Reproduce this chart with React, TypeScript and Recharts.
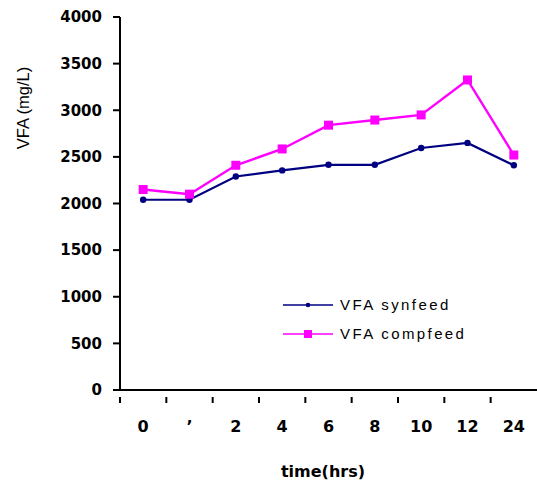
import { Label, Legend, Line, LineChart, XAxis, YAxis } from "recharts";

const hours = ["0", "’", "2", "4", "6", "8", "10", "12", "24"];
const synfeed = [2040, 2040, 2290, 2355, 2415, 2415, 2595, 2650, 2410];
const compfeed = [2150, 2100, 2410, 2585, 2840, 2895, 2950, 3325, 2520];
const yTicks = [0, 500, 1000, 1500, 2000, 2500, 3000, 3500, 4000];

const rows = hours.map((time, i) => ({
  time,
  synfeed: synfeed[i],
  compfeed: compfeed[i],
}));

const W = 537;
const H = 484;
const AXIS_W = 120;
const AXIS_H = 94;
const TOP = 17;
const BAND = (W - AXIS_W) / hours.length;

const NAVY = "#000080";
const MAGENTA = "#ff00ff";
const TICK_FONT = "'DejaVu Sans', sans-serif";
const TEXT_FONT = "'Liberation Sans', Arial, sans-serif";

// category ticks sit on the band edges, labels in the middle
function TimeTick({ x, y, payload }: any) {
  const edge = x - BAND / 2;
  return (
    <g>
      <line x1={edge} x2={edge} y1={y - 1} y2={y + 5} stroke="#000" strokeWidth={2} />
      <text
        x={x}
        y={y + 34}
        textAnchor="middle"
        fontFamily={TICK_FONT}
        fontWeight="bold"
        fontSize={16}
        fill="#000"
      >
        {payload.value}
      </text>
    </g>
  );
}

function SynDot({ cx, cy }: any) {
  return <circle cx={cx} cy={cy} r={3.2} fill={NAVY} />;
}

function CompDot({ cx, cy }: any) {
  return <rect x={cx - 4.5} y={cy - 4.5} width={9} height={9} fill={MAGENTA} />;
}

function KeyBox() {
  const items = [
    { name: "VFA synfeed", color: NAVY, square: false },
    { name: "VFA compfeed", color: MAGENTA, square: true },
  ];
  return (
    <svg width={220} height={60}>
      {items.map((it, i) => {
        const y = 9 + i * 29;
        return (
          <g key={it.name}>
            <line x1={0} x2={50} y1={y} y2={y} stroke={it.color} strokeWidth={1.3} />
            {it.square ? (
              <rect x={21} y={y - 4} width={8} height={8} fill={it.color} />
            ) : (
              <circle cx={25} cy={y} r={2.3} fill={it.color} />
            )}
            <text
              x={57}
              y={y + 5}
              fontFamily={TEXT_FONT}
              fontSize={15}
              letterSpacing={2.4}
              fill="#000"
            >
              {it.name}
            </text>
          </g>
        );
      })}
    </svg>
  );
}

export default function App() {
  return (
    <div style={{ position: "absolute", left: 0, top: 0, background: "#fff" }}>
      <LineChart
        width={W}
        height={H}
        data={rows}
        margin={{ top: TOP, right: 0, bottom: 0, left: 0 }}
      >
        <XAxis
          dataKey="time"
          height={AXIS_H}
          interval={0}
          padding={{ left: BAND / 2, right: BAND / 2 }}
          stroke="#000"
          strokeWidth={2}
          tickLine={false}
          tick={<TimeTick />}
        >
          <Label
            content={() => (
              <text
                x={323}
                y={477}
                textAnchor="middle"
                fontFamily={TICK_FONT}
                fontWeight="bold"
                fontSize={16}
                fill="#000"
              >
                time(hrs)
              </text>
            )}
          />
        </XAxis>
        <YAxis
          width={AXIS_W}
          domain={[0, 4000]}
          ticks={yTicks}
          interval={0}
          stroke="#000"
          strokeWidth={2}
          tickSize={7}
          tickMargin={11}
          tick={{
            fontFamily: TICK_FONT,
            fontWeight: "bold",
            fontSize: 15,
            fill: "#000",
          }}
        >
          <Label
            content={() => (
              <text
                x={29}
                y={108}
                transform="rotate(-90 29 108)"
                textAnchor="middle"
                fontFamily={TEXT_FONT}
                fontSize={16.5}
                fontWeight={500}
                fill="#000"
              >
                VFA (mg/L)
              </text>
            )}
          />
        </YAxis>
        <Legend
          layout="vertical"
          align="center"
          verticalAlign="middle"
          content={<KeyBox />}
          wrapperStyle={{ left: 283, top: 296, width: 220 }}
        />
        <Line
          dataKey="synfeed"
          name="VFA synfeed"
          stroke={NAVY}
          strokeWidth={2.2}
          dot={<SynDot />}
          activeDot={false}
          isAnimationActive={false}
        />
        <Line
          dataKey="compfeed"
          name="VFA compfeed"
          stroke={MAGENTA}
          strokeWidth={2.4}
          dot={<CompDot />}
          activeDot={false}
          isAnimationActive={false}
        />
      </LineChart>
    </div>
  );
}
